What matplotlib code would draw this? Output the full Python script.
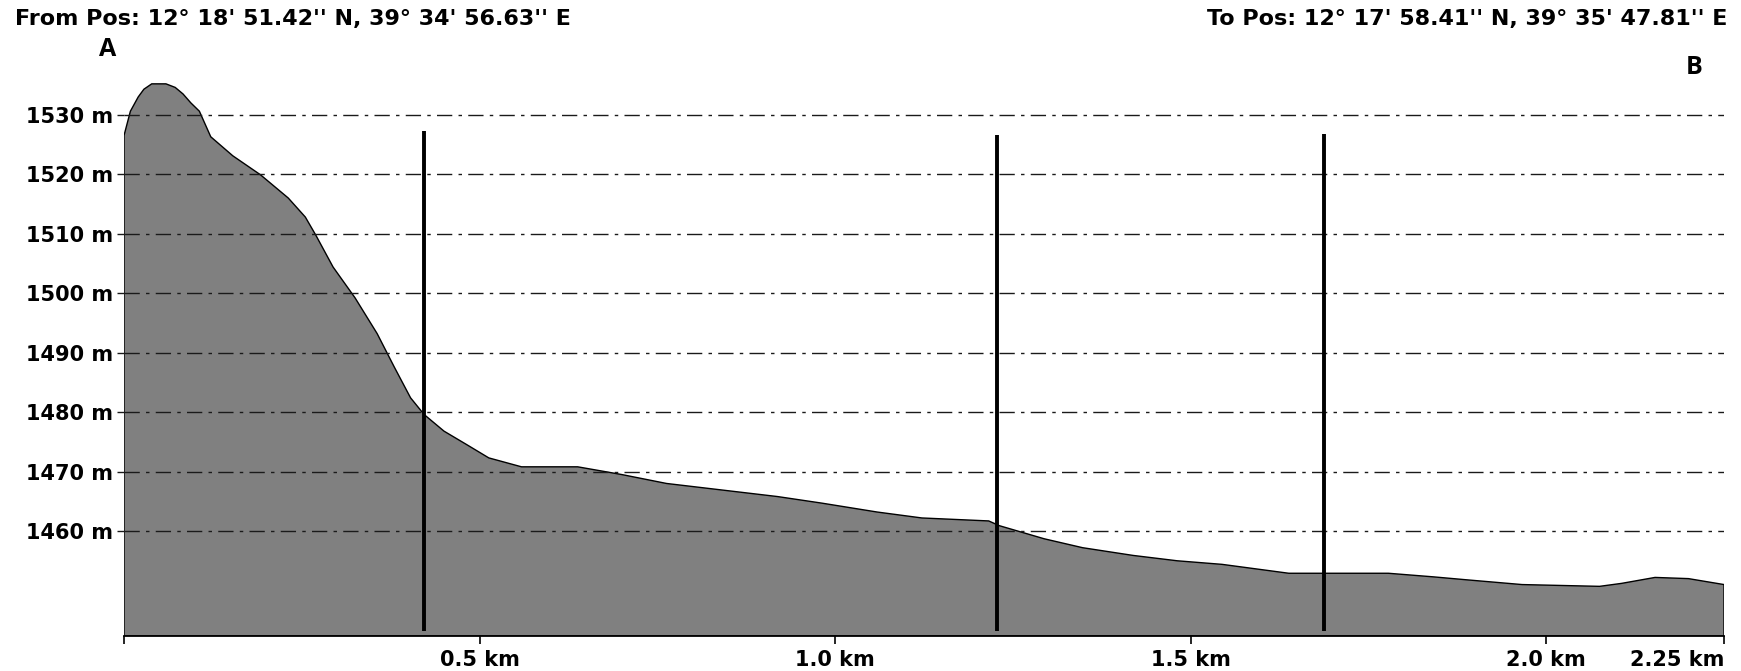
import matplotlib.pyplot as plt

# elevation profile
dist_km = [0.000, 0.009, 0.020, 0.028, 0.039, 0.059, 0.072, 0.083, 0.094, 0.106,
           0.122, 0.153, 0.192, 0.231, 0.255, 0.270, 0.294, 0.325, 0.356, 0.380,
           0.403, 0.422, 0.450, 0.481, 0.513, 0.559, 0.638, 0.700, 0.763, 0.841,
           0.919, 0.981, 1.059, 1.122, 1.216, 1.231, 1.294, 1.348, 1.419, 1.481,
           1.544, 1.638, 1.778, 1.841, 1.888, 1.966, 2.075, 2.106, 2.153, 2.200, 2.250]
elev_m = [1526.5, 1530.6, 1533.0, 1534.3, 1535.2, 1535.2, 1534.6, 1533.5, 1532.0, 1530.6,
          1526.3, 1523.1, 1519.9, 1516.0, 1512.8, 1509.7, 1504.4, 1499.2, 1493.2, 1487.6,
          1482.4, 1479.6, 1476.8, 1474.6, 1472.3, 1470.8, 1470.8, 1469.5, 1468.0, 1466.9,
          1465.8, 1464.7, 1463.2, 1462.2, 1461.7, 1460.9, 1458.7, 1457.2, 1455.9, 1455.0,
          1454.4, 1452.9, 1452.9, 1452.3, 1451.8, 1451.0, 1450.7, 1451.2, 1452.2, 1452.0, 1451.0]

# vertical markers
mark_km = [0.422, 1.228, 1.688]
mark_top = [1527.2, 1526.6, 1526.8]
mark_bottom = 1443.2

y_ticks = [1460, 1470, 1480, 1490, 1500, 1510, 1520, 1530]
x_ticks = [0.5, 1.0, 1.5, 2.0, 2.25]
x_labels = ['0.5 km', '1.0 km', '1.5 km', '2.0 km', '2.25 km']

from_txt = "From Pos: 12° 18' 51.42'' N, 39° 34' 56.63'' E"
to_txt = "To Pos: 12° 17' 58.41'' N, 39° 35' 47.81'' E"

ymin, ymax = 1442.35, 1549.3
fs = 15

fig = plt.figure(figsize=(17.41, 6.71), dpi=100)
ax = fig.add_axes([124/1741, 1 - 636/671, 1600/1741, 636/671])
ax.set_xlim(0, 2.25)
ax.set_ylim(ymin, ymax)

px = [dist_km[0]] + dist_km + [dist_km[-1]]
py = [ymin] + elev_m + [ymin]
ax.fill(px, py, facecolor='#808080', edgecolor='black', lw=1.0, zorder=1)

for yt in y_ticks:
    ax.plot([0, 2.25], [yt, yt], color='#1a1a1a', lw=1.0,
            linestyle=(0, (11, 4.5, 2.5, 4.5)), zorder=2)

for xm, yt in zip(mark_km, mark_top):
    ax.plot([xm, xm], [mark_bottom, yt], color='black', lw=2.8,
            solid_capstyle='butt', zorder=3)

for s in ['top', 'right', 'left']:
    ax.spines[s].set_visible(False)
ax.spines['bottom'].set_linewidth(1.3)
ax.spines['bottom'].set_zorder(4)

ax.set_yticks(y_ticks)
ax.set_yticklabels([f'{v} m' for v in y_ticks])
ax.set_xticks([0] + x_ticks)
ax.set_xticklabels([''] + x_labels)
ax.tick_params(axis='y', length=5, width=1, color='#1a1a1a', pad=3,
               labelsize=fs)
ax.tick_params(axis='x', length=6, width=1.2, color='black', pad=4,
               labelsize=fs)
for lbl in ax.get_xticklabels() + ax.get_yticklabels():
    lbl.set_fontweight('bold')
ax.get_xticklabels()[-1].set_horizontalalignment('right')

fig.text(15/1741, 1 - 19/671, from_txt, fontsize=16, fontweight='bold',
         ha='left', va='center')
fig.text(1727/1741, 1 - 19/671, to_txt, fontsize=16, fontweight='bold',
         ha='right', va='center')
fig.text(108/1741, 1 - 50/671, 'A', fontsize=18, fontweight='bold',
         family='Open Sans', ha='center', va='center')
fig.text(1694/1741, 1 - 68/671, 'B', fontsize=18, fontweight='bold',
         family='Open Sans', ha='center', va='center')

fig.savefig('out.png', dpi=100)
